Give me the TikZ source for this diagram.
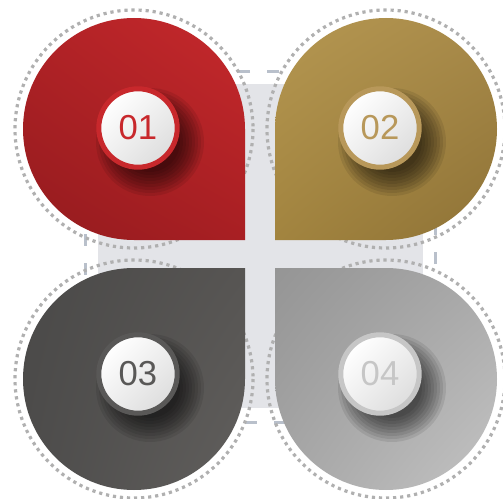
\documentclass[tikz,border=0pt]{standalone}
\usepackage{fontspec}
\setmainfont{Liberation Sans}
\usetikzlibrary{shadings}

\definecolor{panelgray}{HTML}{E3E4E8}
\definecolor{dashgray}{HTML}{B9C0CB}
\definecolor{dotgray}{HTML}{B0B0B0}
\definecolor{redUL}{HTML}{B12226}
\definecolor{redUR}{HTML}{C6292C}
\definecolor{redLL}{HTML}{931B1E}
\definecolor{redLR}{HTML}{A81F23}
\definecolor{redring}{HTML}{C8282C}
\definecolor{goldUL}{HTML}{B59751}
\definecolor{goldUR}{HTML}{A88A49}
\definecolor{goldLL}{HTML}{A2843F}
\definecolor{goldLR}{HTML}{8E7236}
\definecolor{goldring}{HTML}{B8985A}
\definecolor{darkUL}{HTML}{4A4948}
\definecolor{darkUR}{HTML}{575553}
\definecolor{darkLL}{HTML}{4D4C4B}
\definecolor{darkLR}{HTML}{615F5D}
\definecolor{darkring}{HTML}{595857}
\definecolor{liteUL}{HTML}{959595}
\definecolor{liteUR}{HTML}{A9A9A9}
\definecolor{liteLL}{HTML}{A6A6A6}
\definecolor{liteLR}{HTML}{C4C4C4}
\definecolor{litering}{HTML}{C6C6C6}

\begin{document}
\begin{tikzpicture}[x=0.75pt,y=-0.75pt]
    % Define styles
    \tikzstyle{numcirc} = [circle, minimum size=58.8pt, inner sep=0pt, line width=3.75pt, top color=white, bottom color=black!13, shading angle=45, font=\fontsize{26}{26}\selectfont]
    \tikzstyle{dotring} = [draw=dotgray, line width=2.4pt, dash pattern=on 2.4pt off 2.9pt]
    \tikzstyle{shadowblob} = [black, opacity=0.085]

    \useasboundingbox (0,0) rectangle (503,499);

    % Background panel
    \fill[panelgray] (98,84) rectangle (423,408);
    \draw[dashgray, line width=2.25pt, dash pattern=on 9pt off 12.75pt, dash phase=9pt] (85,72) rectangle (435,422);

    % Dotted rings
    \draw[dotring] (134,129) circle[radius=119];
    \draw[dotring] (386,129) circle[radius=119];
    \draw[dotring] (134,379) circle[radius=119];
    \draw[dotring] (386,379) circle[radius=119];

    % Petals
    \shade[upper left=redUL, upper right=redUR, lower left=redLL, lower right=redLR]
        (245,240) -- (134,240) arc[start angle=90, end angle=360, radius=111] -- cycle;
    \shade[upper left=goldUL, upper right=goldUR, lower left=goldLL, lower right=goldLR]
        (275,240) -- (275,129) arc[start angle=180, end angle=450, radius=111] -- cycle;
    \shade[upper left=darkUL, upper right=darkUR, lower left=darkLL, lower right=darkLR]
        (245,268) -- (134,268) arc[start angle=270, end angle=0, radius=111] -- cycle;
    \shade[upper left=liteUL, upper right=liteUR, lower left=liteLL, lower right=liteLR]
        (275,268) -- (386,268) arc[start angle=270, end angle=540, radius=111] -- cycle;

    % Shadows
    \foreach \cx/\cy in {138/128, 380/128, 138/374, 380/374}
        \foreach \r in {30,33,...,54}
            \fill[shadowblob] ({\cx+12},{\cy+14}) circle[radius=\r];

    % Numbers
    \node[numcirc, draw=redring, text=redring] (num1) at (138,128) {01};
    \node[numcirc, draw=goldring, text=goldring] (num2) at (380,128) {02};
    \node[numcirc, draw=darkring, text=darkring] (num3) at (138,374) {03};
    \node[numcirc, draw=litering, text=litering] (num4) at (380,374) {04};
\end{tikzpicture}
\end{document}
